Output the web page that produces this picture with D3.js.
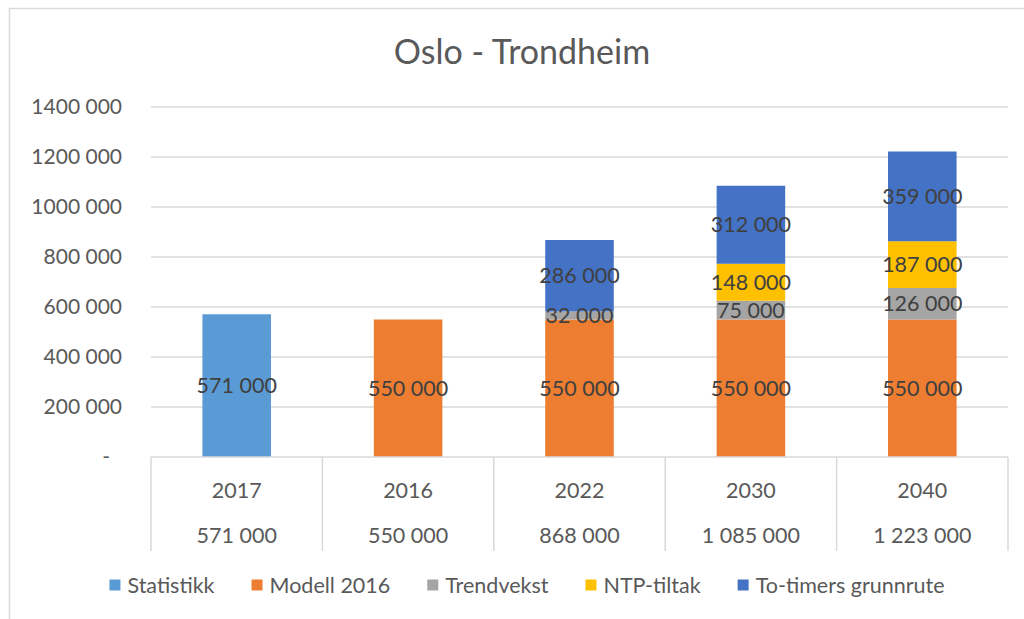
<!DOCTYPE html>
<html><head><meta charset="utf-8">
<script src="https://cdn.jsdelivr.net/npm/d3@7"></script>
<style>html,body{margin:0;padding:0;background:#fff;}svg{display:block;}</style>
</head><body>
<svg id="chart" width="1024" height="619"></svg>
<script>
const categories = ["2017", "2016", "2022", "2030", "2040"];
const totalLabels = ["571 000", "550 000", "868 000", "1 085 000", "1 223 000"];
const seriesNames = ["Statistikk", "Modell 2016", "Trendvekst", "NTP-tiltak", "To-timers grunnrute"];
const statistikk = [571000, 0, 0, 0, 0];
const modell2016 = [0, 550000, 550000, 550000, 550000];
const trendvekst = [0, 0, 32000, 75000, 126000];
const ntpTiltak = [0, 0, 0, 148000, 187000];
const toTimers = [0, 0, 286000, 312000, 359000];
const yTicks = [0, 200000, 400000, 600000, 800000, 1000000, 1200000, 1400000];
const yTickLabels = ["-", "200 000", "400 000", "600 000", "800 000", "1000 000", "1200 000", "1400 000"];
const colors = ["#5B9BD5", "#ED7D31", "#A5A5A5", "#FFC000", "#4472C4"];

(function () {
const seriesValues = [statistikk, modell2016, trendvekst, ntpTiltak, toTimers];
const font = "Lato, 'Open Sans', sans-serif";
const svg = d3.select("#chart");

// outer border
svg.append("rect").attr("x", 9.5).attr("y", 8.5).attr("width", 1030).attr("height", 640)
  .attr("fill", "none").attr("stroke", "#d9d9d9").attr("stroke-width", 1.5);

const pl = 151, pr = 1008, pt = 107, pb = 457;
const x = d3.scaleBand().domain(categories).range([pl, pr]).paddingInner(0).paddingOuter(0);
const y = d3.scaleLinear().domain([0, 1400000]).range([pb, pt]);

// title
svg.append("text").attr("x", 522).attr("y", 64).attr("text-anchor", "middle")
  .attr("font-family", font).attr("font-size", 34).attr("fill", "#595959").text("Oslo - Trondheim");

// gridlines
svg.append("g").selectAll("line").data(yTicks.slice(1)).join("line")
  .attr("x1", pl).attr("x2", pr).attr("y1", d => y(d)).attr("y2", d => y(d))
  .attr("stroke", "#d9d9d9").attr("stroke-width", 1.5);

// y tick labels
svg.append("g").selectAll("text").data(yTicks).join("text")
  .attr("x", (d, i) => i === 0 ? 110 : 122).attr("y", d => y(d)).attr("dy", "0.35em")
  .attr("text-anchor", "end").attr("font-family", font).attr("font-size", 21).attr("fill", "#595959")
  .text((d, i) => yTickLabels[i]);

// stacked bars
const rows = categories.map((c, i) => {
  const o = { cat: c };
  seriesNames.forEach((s, j) => o[s] = seriesValues[j][i]);
  return o;
});
const stack = d3.stack().keys(seriesNames)(rows);
const barW = x.bandwidth() * 0.4;
const layers = svg.append("g").selectAll("g").data(stack).join("g").attr("fill", (d, i) => colors[i]);
layers.selectAll("rect").data(d => d.filter(p => p[1] - p[0] > 0)).join("rect")
  .attr("x", d => x(d.data.cat) + (x.bandwidth() - barW) / 2)
  .attr("width", barW)
  .attr("y", d => y(d[1]))
  .attr("height", d => y(d[0]) - y(d[1]));

// data labels
const fmt = v => d3.format(",")(v).replace(/,/g, " ");
const lbl = svg.append("g");
stack.forEach(layer => {
  layer.forEach(p => {
    const v = p[1] - p[0];
    if (v <= 0) return;
    lbl.append("text").attr("x", x(p.data.cat) + x.bandwidth() / 2).attr("y", y((p[0] + p[1]) / 2))
      .attr("dy", "0.35em").attr("text-anchor", "middle").attr("font-family", font)
      .attr("font-size", 21.5).attr("fill", "#404040").text(fmt(v));
  });
});

// table
const tbl = svg.append("g").attr("stroke", "#d9d9d9").attr("stroke-width", 1.5);
tbl.append("line").attr("x1", pl).attr("x2", pr).attr("y1", pb).attr("y2", pb);
const edges = categories.map(c => x(c)).concat([pr]);
tbl.selectAll("line.v").data(edges).join("line").attr("class", "v")
  .attr("x1", d => d).attr("x2", d => d).attr("y1", pb).attr("y2", 551);
svg.append("g").selectAll("text").data(categories).join("text")
  .attr("x", d => x(d) + x.bandwidth() / 2).attr("y", 490).attr("dy", "0.35em")
  .attr("text-anchor", "middle").attr("font-family", font).attr("font-size", 21.5).attr("fill", "#595959")
  .text(d => d);
svg.append("g").selectAll("text").data(totalLabels).join("text")
  .attr("x", (d, i) => x(categories[i]) + x.bandwidth() / 2).attr("y", 535).attr("dy", "0.35em")
  .attr("text-anchor", "middle").attr("font-family", font).attr("font-size", 21.5).attr("fill", "#595959")
  .text(d => d);

// legend
const leg = svg.append("g");
const items = seriesNames.map((s, i) => {
  const g = leg.append("g");
  g.append("rect").attr("width", 11).attr("height", 11).attr("y", -5.5).attr("fill", colors[i]);
  const t = g.append("text").attr("x", 18).attr("dy", "0.35em").attr("font-family", font)
    .attr("font-size", 21.5).attr("fill", "#595959").text(s);
  return { g, w: 18 + t.node().getComputedTextLength() };
});
const gap = 37;
const total = d3.sum(items, d => d.w) + gap * (items.length - 1);
let cx = 527 - total / 2;
items.forEach(it => { it.g.attr("transform", `translate(${cx},585)`); cx += it.w + gap; });
})();
</script>
</body></html>
